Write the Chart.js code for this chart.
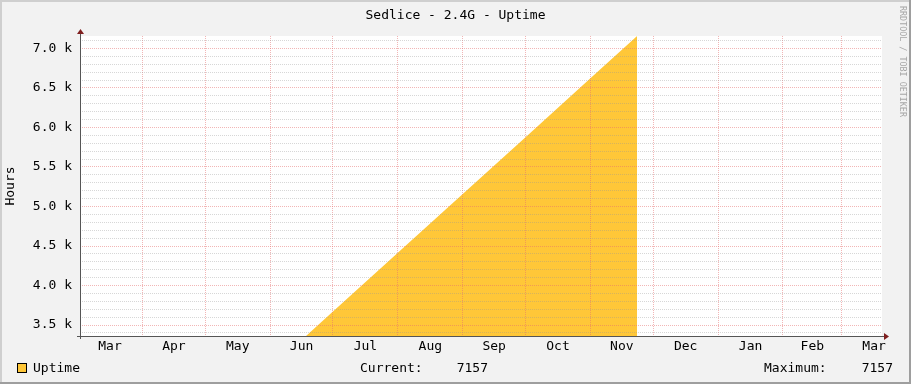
<!DOCTYPE html>
<html>
<head>
<meta charset="utf-8">
<title>Sedlice - 2.4G - Uptime</title>
<script src="https://cdn.jsdelivr.net/npm/chart.js@4.4.1/dist/chart.umd.min.js"></script>
<style>
  html, body { margin: 0; padding: 0; background: #f2f2f2; }
  canvas { display: block; }
</style>
</head>
<body>
<canvas id="chart" width="911" height="384"></canvas>
<script>
// months on the x axis (days counted from 1 Mar of the first year)
const monthNames = ["Mar", "Apr", "May", "Jun", "Jul", "Aug", "Sep", "Oct", "Nov", "Dec", "Jan", "Feb", "Mar"];
const monthStartDays = [0, 31, 61, 92, 122, 153, 184, 214, 245, 275, 306, 337, 365, 396];

// uptime in hours
const uptimeDays = [92, 122, 153, 184, 214, 245, 267.3];
const uptimeHours = [2950, 3670, 4414, 5158, 5878, 6622, 7157];

const yMajorValues = [3500, 4000, 4500, 5000, 5500, 6000, 6500, 7000];
const yMajorLabels = ["3.5 k", "4.0 k", "4.5 k", "5.0 k", "5.5 k", "6.0 k", "6.5 k", "7.0 k"];

const xRange = [1.15, 384.3];
const yRange = [3361, 7158];

const titleText = "Sedlice - 2.4G - Uptime";
const currentValue = 7157;
const maximumValue = 7157;

const FONT = "'DejaVu Sans Mono', monospace";
const AREA = "#ffc738";
const MGRID = "rgba(230, 110, 110, 0.5)";
const GRID = "rgba(150, 150, 150, 0.38)";

// x ticks: month starts carry the grid, month middles carry the labels
const xLabelAt = new Map();
const xGridAt = new Set();
for (let i = 0; i < monthNames.length; i++) {
  const mid = (monthStartDays[i] + monthStartDays[i + 1]) / 2;
  xLabelAt.set(mid, monthNames[i]);
}
monthStartDays.forEach(d => {
  if (d > xRange[0] && d < xRange[1]) xGridAt.add(d);
});
const xTickValues = [...xLabelAt.keys(), ...xGridAt].sort((a, b) => a - b);

const yLabelAt = new Map(yMajorValues.map((v, i) => [v, yMajorLabels[i]]));
const yTickValues = [];
for (let v = 3400; v <= 7100; v += 100) yTickValues.push(v);

const frame = {
  id: "frame",
  beforeDraw(chart) {
    const { ctx, chartArea: a, width, height } = chart;
    ctx.save();
    ctx.fillStyle = "#f2f2f2";
    ctx.fillRect(0, 0, width, height);
    ctx.fillStyle = "#cfcfcf";
    ctx.fillRect(0, 0, width, 2);
    ctx.fillRect(0, 0, 2, height);
    ctx.fillStyle = "#9e9e9e";
    ctx.fillRect(width - 2, 0, 2, height);
    ctx.fillRect(0, height - 2, width, 2);
    ctx.fillStyle = "#ffffff";
    ctx.fillRect(a.left, a.top, a.right - a.left, a.bottom - a.top);
    ctx.restore();
  },
  afterDraw(chart) {
    const { ctx, chartArea: a, width } = chart;
    ctx.save();
    // axes
    ctx.strokeStyle = "#555555";
    ctx.lineWidth = 1;
    ctx.beginPath();
    ctx.moveTo(a.left - 3, a.bottom + 0.5);
    ctx.lineTo(a.right + 3, a.bottom + 0.5);
    ctx.moveTo(a.left + 0.5, a.bottom + 3);
    ctx.lineTo(a.left + 0.5, a.top - 5);
    ctx.stroke();
    ctx.fillStyle = "#7f1f1f";
    ctx.beginPath();
    ctx.moveTo(a.right + 7, a.bottom + 0.5);
    ctx.lineTo(a.right + 2, a.bottom - 3);
    ctx.lineTo(a.right + 2, a.bottom + 4);
    ctx.closePath();
    ctx.fill();
    ctx.beginPath();
    ctx.moveTo(a.left + 0.5, a.top - 7);
    ctx.lineTo(a.left - 3, a.top - 2);
    ctx.lineTo(a.left + 4, a.top - 2);
    ctx.closePath();
    ctx.fill();

    // title
    ctx.fillStyle = "#000000";
    ctx.font = "13px " + FONT;
    ctx.textAlign = "center";
    ctx.textBaseline = "alphabetic";
    ctx.fillText(titleText, width / 2, 18.5);

    // legend line
    ctx.fillStyle = AREA;
    ctx.fillRect(17, 363, 10, 10);
    ctx.strokeStyle = "#000000";
    ctx.strokeRect(17.5, 363.5, 9, 9);
    ctx.fillStyle = "#000000";
    ctx.textAlign = "left";
    ctx.fillText("Uptime", 33, 371.5);
    ctx.fillText("Current:", 360, 371.5);
    ctx.fillText("Maximum:", 764, 371.5);
    ctx.textAlign = "right";
    ctx.fillText(String(currentValue), 488, 371.5);
    ctx.fillText(String(maximumValue), 893, 371.5);

    // watermark
    ctx.translate(902.5, 6);
    ctx.rotate(Math.PI / 2);
    ctx.font = "8.4px " + FONT;
    ctx.fillStyle = "#a6a6a6";
    ctx.textAlign = "left";
    ctx.textBaseline = "middle";
    ctx.fillText("RRDTOOL / TOBI OETIKER", 0, 0);
    ctx.restore();
  }
};

new Chart(document.getElementById("chart"), {
  type: "line",
  data: {
    datasets: [{
      label: "Uptime",
      data: uptimeDays.map((d, i) => ({ x: d, y: uptimeHours[i] })),
      fill: "origin",
      backgroundColor: AREA,
      borderWidth: 0,
      pointRadius: 0,
      tension: 0
    }]
  },
  options: {
    responsive: false,
    animation: false,
    layout: { padding: { left: 0, right: 29, top: 36, bottom: 0 } },
    plugins: {
      legend: { display: false },
      tooltip: { enabled: false },
      title: { display: false }
    },
    scales: {
      x: {
        type: "linear",
        min: xRange[0],
        max: xRange[1],
        afterBuildTicks: s => { s.ticks = xTickValues.map(v => ({ value: v })); },
        afterFit: s => { s.height = 48; },
        border: { display: false, dash: [1, 1] },
        grid: {
          z: 1,
          drawTicks: false,
          color: c => (c.tick && xGridAt.has(c.tick.value)) ? MGRID : "rgba(0,0,0,0)",
          lineWidth: c => (c.tick && xGridAt.has(c.tick.value)) ? 1 : 0
        },
        ticks: {
          autoSkip: false,
          maxRotation: 0,
          padding: 3,
          color: "#000000",
          font: { family: FONT, size: 13 },
          callback: v => xLabelAt.get(v) || ""
        }
      },
      y: {
        type: "linear",
        min: yRange[0],
        max: yRange[1],
        afterBuildTicks: s => { s.ticks = yTickValues.map(v => ({ value: v })); },
        afterFit: s => { s.width = 80; },
        border: { display: false, dash: [1, 1] },
        grid: {
          z: 1,
          drawTicks: false,
          color: c => (c.tick && yLabelAt.has(c.tick.value)) ? MGRID : GRID
        },
        ticks: {
          autoSkip: false,
          padding: 8,
          color: "#000000",
          font: { family: FONT, size: 13 },
          callback: v => yLabelAt.get(v) || ""
        },
        title: {
          display: true,
          text: "Hours",
          color: "#000000",
          font: { family: FONT, size: 13 },
          padding: { top: 3, bottom: 0 }
        }
      }
    }
  },
  plugins: [frame]
});
</script>
</body>
</html>
